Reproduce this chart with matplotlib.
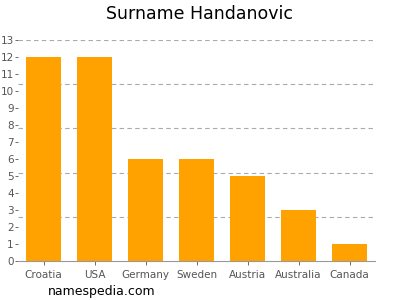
import matplotlib.pyplot as plt
import numpy as np

# data
countries = ['Croatia', 'USA', 'Germany', 'Sweden', 'Austria', 'Australia', 'Canada']
counts = [12, 12, 6, 6, 5, 3, 1]
yticks = list(range(0, 14))
grid_levels = [2.6, 5.2, 7.8, 10.4, 13]

fig = plt.figure(figsize=(4, 3), dpi=100)
ax = fig.add_axes([18/400, 1 - 261/300, 357/400, 221/300])

x = np.arange(len(countries))
ax.bar(x, counts, width=0.69, color='#ffa200', zorder=2)

for g in grid_levels:
    ax.axhline(g, color='#aaaaaa', linestyle=(0, (4, 3)), linewidth=0.8, zorder=1)

ax.set_xlim(-0.5, len(countries) - 0.5)
ax.set_ylim(0, 13)
ax.set_yticks(yticks)
ax.set_xticks(x)
ax.set_xticklabels(countries)
ax.tick_params(axis='both', labelsize=7.5, colors='#555555', length=3, width=0.6)
ax.tick_params(axis='y', pad=1, length=2)

for s in ['top', 'right', 'left']:
    ax.spines[s].set_visible(False)
ax.spines['bottom'].set_color('#999999')
ax.spines['bottom'].set_linewidth(0.8)

fig.text(0.5, 1 - 14/300, 'Surname Handanovic', ha='center', va='center', fontsize=12.5)
fig.text(48/400, 1 - 292/300, 'namespedia.com', ha='left', va='center', fontsize=9)

fig.savefig('out.png')
